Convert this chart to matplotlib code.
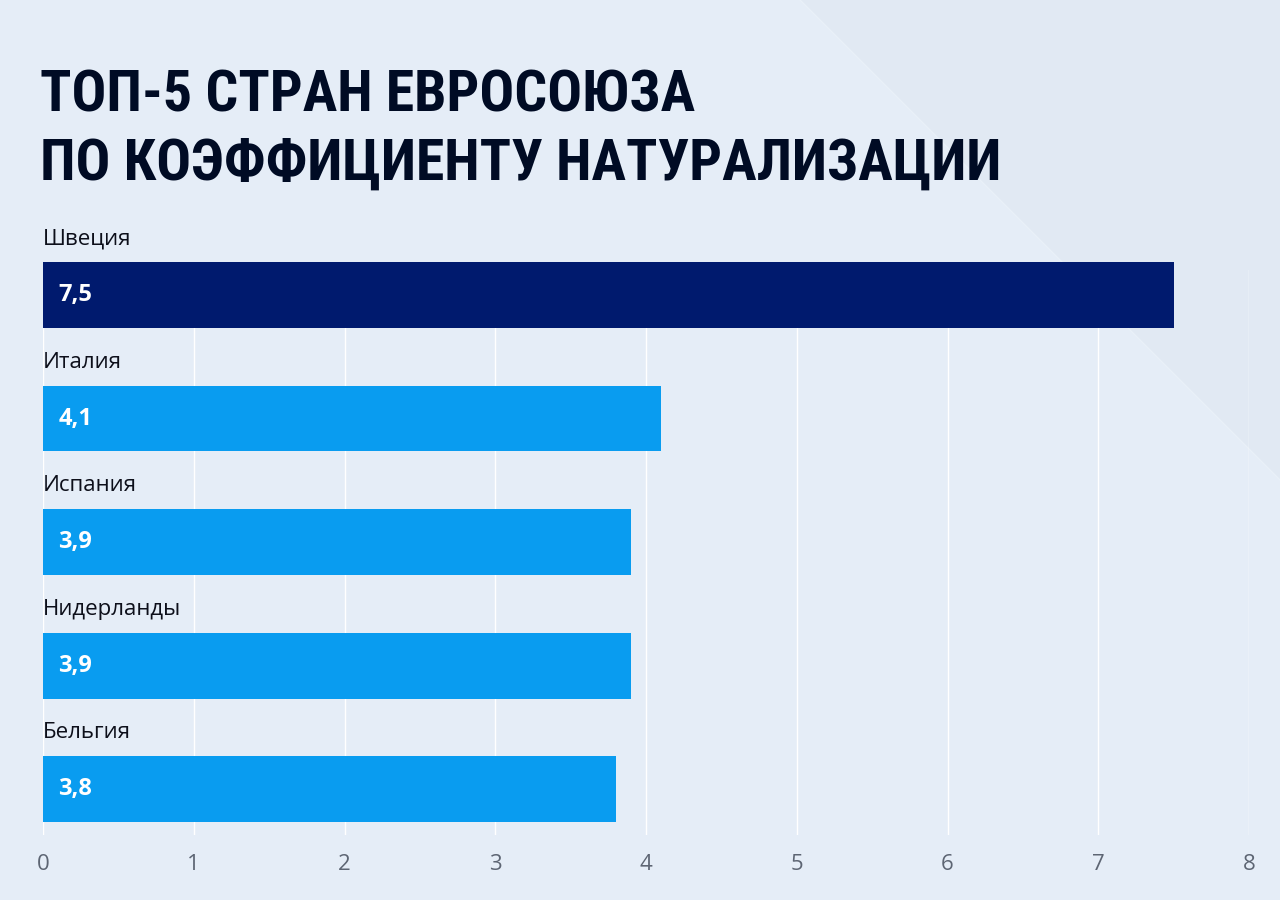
import matplotlib
matplotlib.use("Agg")
import matplotlib.pyplot as plt
from matplotlib import font_manager
from matplotlib.font_manager import FontProperties
from matplotlib.patches import Polygon

countries = ["Швеция", "Италия", "Испания", "Нидерланды", "Бельгия"]
values = [7.5, 4.1, 3.9, 3.9, 3.8]
value_labels = ["7,5", "4,1", "3,9", "3,9", "3,8"]
xticks = [0, 1, 2, 3, 4, 5, 6, 7, 8]
title_lines = ["ТОП-5 СТРАН ЕВРОСОЮЗА", "ПО КОЭФФИЦИЕНТУ НАТУРАЛИЗАЦИИ"]

# look for a narrow bold face for the title
def weight_num(w):
    if isinstance(w, int):
        return w
    return {"bold": 700, "heavy": 800, "black": 900, "semibold": 600,
            "demibold": 600, "extra bold": 800}.get(str(w).lower(), 400)

cands = []
for f in font_manager.fontManager.ttflist:
    narrow = (str(f.stretch) in ("condensed", "extra-condensed", "semi-condensed", "ultra-condensed")
              or "Condensed" in f.name or "Narrow" in f.name or "Oswald" in f.name)
    if narrow and weight_num(f.weight) >= 600 and f.style == "normal":
        cands.append(f)
order = ["Oswald", "Roboto Condensed", "Noto Sans", "Open Sans", "Liberation Sans Narrow", "DejaVu Sans"]
def rank(f):
    for k, n in enumerate(order):
        if f.name.startswith(n):
            return (k, weight_num(f.weight))
    return (len(order), 0)
cands.sort(key=rank)
if cands:
    title_fp = FontProperties(fname=cands[0].fname)
else:
    title_fp = FontProperties(family="DejaVu Sans", weight="bold", stretch="condensed")

body = "Open Sans"

fig = plt.figure(figsize=(12.8, 9), dpi=100)
fig.patch.set_facecolor("#e3ecf6")

# lighter diagonal band on the left part of the background
bg = fig.add_axes([0, 0, 1, 1], zorder=-10)
bg.set_xlim(0, 1280)
bg.set_ylim(900, 0)
bg.axis("off")
bg.add_patch(Polygon([[0, 0], [800, 0], [1280, 480], [1280, 900], [0, 900]],
                     closed=True, color="#e5edf7", lw=0))
bg.add_patch(Polygon([[800, 0], [1280, 0], [1280, 480]], closed=True, color="#e1e9f3", lw=0))
bg.plot([800, 1280], [0, 480], color="#e9f0f8", lw=1.0)

ax = fig.add_axes([43 / 1280, 1 - 835 / 900, (1249 - 43) / 1280, (835 - 270) / 900])
ax.set_facecolor("none")

colors = ["#001a6e"] + ["#099cf0"] * (len(values) - 1)
pos = list(range(len(values)))
ax.barh(pos, values, height=0.534, color=colors, zorder=3, clip_on=False)

for i, (c, v, lab) in enumerate(zip(countries, values, value_labels)):
    ax.text(0, i - 0.455, c, ha="left", va="center", fontsize=16,
            color="#0d0f1a", family=body, clip_on=False)
    ax.annotate(lab, (0, i), xytext=(11, 0), textcoords="offset points",
                ha="left", va="center", fontsize=17, fontweight="bold",
                color="white", family=body, zorder=4)

ax.set_xlim(0, 8)
ax.set_ylim(4.372, -0.2024)
ax.set_xticks(xticks)
ax.set_xticklabels([str(t) for t in xticks])
ax.set_yticks([])
ax.grid(axis="x", color="white", lw=1.0, zorder=1)
ax.tick_params(axis="x", length=0, pad=14, labelsize=16, labelcolor="#5d6573")
for lbl in ax.get_xticklabels():
    lbl.set_family(body)
for s in ax.spines.values():
    s.set_visible(False)

# title lines, scaled so the longer line spans ~962 px like the reference
tfp = title_fp.copy()
tfp.set_size(53)
t1 = fig.text(40 / 1280, 1 - 112 / 900, title_lines[0], ha="left", va="baseline",
              color="#000b24", fontproperties=tfp)
t2 = fig.text(40 / 1280, 1 - 180 / 900, title_lines[1], ha="left", va="baseline",
              color="#000b24", fontproperties=tfp)
r = fig.canvas.get_renderer()
w = t2.get_window_extent(r).width
size = min(53, 53 * 962 / w)
t1.set_fontsize(size)
t2.set_fontsize(size)

fig.savefig("out.png", dpi=100, facecolor=fig.get_facecolor())
